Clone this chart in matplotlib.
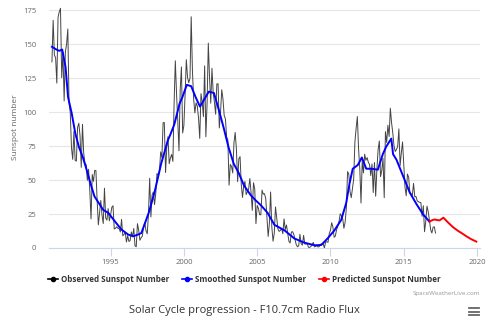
import matplotlib.pyplot as plt
from matplotlib.lines import Line2D
import numpy as np

# Observed monthly sunspot number, Jan 1991 onwards
obs_start = 1991
observed = [
    136.9, 167.5, 141.9, 140.0, 121.3, 169.7, 173.7, 176.3, 125.3, 144.1, 108.2, 144.4,  # 1991
    150.0, 161.1, 106.7, 99.8, 73.8, 65.2, 85.7, 64.5, 63.9, 88.7, 91.8, 82.6,  # 1992
    59.3, 91.0, 69.8, 62.2, 61.3, 49.8, 57.9, 42.3, 21.4, 54.1, 49.0, 57.1,  # 1993
    57.0, 35.0, 17.0, 26.0, 35.0, 24.0, 18.0, 44.0, 22.0, 20.5, 29.0, 20.0,  # 1994
    24.2, 29.9, 31.1, 14.0, 14.5, 15.6, 14.5, 14.3, 11.8, 21.1, 9.0, 10.0,  # 1995
    11.5, 4.4, 9.2, 4.8, 5.5, 11.8, 8.2, 14.4, 1.6, 0.9, 17.9, 13.3,  # 1996
    5.7, 7.6, 8.7, 15.5, 18.5, 12.7, 10.4, 24.4, 51.3, 22.8, 39.0, 41.2,  # 1997
    31.9, 40.3, 54.8, 53.4, 56.3, 70.7, 66.6, 92.2, 92.2, 55.5, 74.0, 81.9,  # 1998
    62.0, 66.3, 68.8, 63.7, 106.4, 137.7, 113.5, 93.7, 71.5, 116.7, 133.2, 84.6,  # 1999
    90.1, 112.9, 138.5, 125.5, 121.6, 124.9, 170.1, 130.5, 109.7, 99.4, 106.8, 104.4,  # 2000
    95.6, 80.6, 113.5, 107.7, 96.6, 134.0, 81.8, 106.4, 150.7, 125.5, 106.5, 132.2,  # 2001
    114.1, 107.4, 98.4, 120.7, 120.8, 88.3, 99.6, 116.4, 109.6, 97.5, 95.0, 81.6,  # 2002
    79.5, 46.2, 61.5, 60.0, 55.2, 77.4, 85.0, 72.7, 48.8, 65.6, 67.2, 46.5,  # 2003
    37.2, 46.0, 48.9, 39.3, 41.5, 43.2, 51.1, 40.9, 27.7, 48.0, 43.5, 17.9,  # 2004
    31.3, 29.2, 24.5, 24.4, 42.6, 39.6, 39.9, 36.4, 22.1, 8.5, 18.0, 41.2,  # 2005
    15.4, 5.0, 10.8, 30.2, 22.2, 13.9, 12.2, 12.9, 14.4, 10.5, 21.4, 13.6,  # 2006
    16.9, 10.6, 4.8, 3.7, 11.7, 12.0, 10.0, 6.2, 2.4, 0.9, 1.7, 10.1,  # 2007
    3.3, 2.1, 9.3, 2.9, 2.9, 3.1, 0.5, 0.5, 1.1, 2.9, 4.1, 0.8,  # 2008
    1.5, 1.4, 0.7, 1.2, 2.9, 2.6, 3.5, 0.0, 4.2, 4.6, 4.2, 10.6,  # 2009
    13.1, 18.6, 15.4, 7.9, 8.8, 13.5, 16.1, 19.6, 25.2, 23.5, 21.6, 14.5,  # 2010
    19.0, 29.4, 56.2, 54.4, 41.6, 37.0, 43.9, 50.6, 78.0, 88.0, 96.7, 73.0,  # 2011
    58.3, 33.1, 64.2, 55.2, 69.0, 64.5, 66.5, 63.0, 61.4, 53.3, 61.8, 40.8,  # 2012
    62.9, 38.1, 57.9, 72.4, 78.7, 52.5, 57.0, 66.0, 37.0, 85.6, 77.6, 90.3,  # 2013
    82.0, 102.8, 92.2, 84.7, 75.2, 71.0, 72.4, 74.6, 87.6, 60.6, 70.1, 78.0,  # 2014
    62.0, 44.8, 38.4, 54.4, 52.0, 40.2, 39.9, 38.5, 47.5, 37.6, 37.9, 34.7,  # 2015
    34.0, 33.6, 33.4, 23.3, 31.1, 12.0, 19.6, 30.8, 26.8, 20.5, 13.5, 11.0,  # 2016
    15.3, 15.6, 11.0,  # 2017
]

# Smoothed sunspot number
smooth_years = [1991.0, 1991.3, 1991.5, 1991.7, 1991.93, 1992.1, 1992.35, 1992.6, 1992.85,
                1993.1, 1993.3, 1993.7, 1993.9, 1994.2, 1994.5, 1994.85, 1995.3, 1995.75,
                1996.2, 1996.55, 1996.9, 1997.1, 1997.6, 1998.0, 1998.45, 1998.9, 1999.1,
                1999.35, 1999.7, 1999.9, 2000.2, 2000.5, 2000.8, 2001.1, 2001.4, 2001.7,
                2002.05, 2002.4, 2002.7, 2003.05, 2003.4, 2003.75, 2004.1, 2004.55, 2004.9,
                2005.25, 2005.7, 2006.18, 2006.86, 2007.54, 2008.2, 2008.9, 2009.37, 2009.8,
                2010.27, 2010.73, 2011.07, 2011.3, 2011.52, 2011.86, 2012.14, 2012.44, 2012.8,
                2013.23, 2013.57, 2013.8, 2014.15, 2014.27, 2014.5, 2014.95, 2015.4, 2015.86,
                2016.3, 2016.75]
smooth_vals = [148, 146, 145, 146, 133, 111, 99, 84, 74,
               67, 60, 45, 38, 33, 28, 25.8, 19.5, 13.5,
               9.9, 8.6, 10, 11, 25.8, 41, 62, 79, 84,
               91, 106, 111, 120, 119, 111, 104, 109.5, 115,
               114, 101, 89, 74, 62, 55, 46, 39, 35,
               31.5, 26, 17, 13, 7, 4, 2, 2.2, 7,
               13, 20.6, 33, 47.4, 58.3, 61, 66.6, 58.3, 58.3,
               57.6, 69, 74.5, 80.5, 69, 65, 53, 41, 32.4,
               25, 19.4]

# Predicted sunspot number
pred_years = [2016.75, 2016.95, 2017.1, 2017.3, 2017.44, 2017.7, 2018.0, 2018.34,
              2018.7, 2019.0, 2019.27, 2019.6, 2019.95]
pred_vals = [19.4, 20.5, 21, 20.5, 20.3, 22.3, 19.0, 15.5, 12.6, 10.6, 8.6, 6.5, 4.7]

years_ticks = [1995, 2000, 2005, 2010, 2015, 2020]
y_ticks = [0, 25, 50, 75, 100, 125, 150, 175]

obs_x = obs_start + np.arange(len(observed)) / 12.0

plt.rcParams['font.family'] = ['Open Sans', 'DejaVu Sans']

fig = plt.figure(figsize=(4.97, 3.24), dpi=100)
ax = fig.add_axes([49 / 497, 76 / 324, 431 / 497, 242 / 324])

ax.plot(obs_x, observed, color='#444444', linewidth=0.7, zorder=3)
ax.plot(smooth_years, smooth_vals, color='#0000ff', linewidth=1.4, zorder=4)
ax.plot(pred_years, pred_vals, color='#ff0000', linewidth=1.4, zorder=4)

ax.set_xlim(1990.8, 2020.2)
ax.set_ylim(0, 178)
ax.set_xticks(years_ticks)
ax.set_yticks(y_ticks)
ax.grid(axis='y', color='#e6e6e6', linewidth=0.8)
ax.set_axisbelow(True)
for s in ['top', 'right', 'left']:
    ax.spines[s].set_visible(False)
ax.spines['bottom'].set_color('#ccd6eb')
ax.tick_params(axis='x', colors='#ccd6eb', length=6, width=0.8, labelcolor='#666666',
               labelsize=5.5, pad=2)
ax.tick_params(axis='y', length=0, labelcolor='#666666', labelsize=5.5, pad=9)
ax.set_ylabel('Sunspot number', color='#666666', fontsize=6, labelpad=3)

# legend
handles = [
    Line2D([], [], color='#000000', marker='o', markersize=3, linewidth=1.2),
    Line2D([], [], color='#0000ff', marker='o', markersize=3, linewidth=1.2),
    Line2D([], [], color='#ff0000', marker='o', markersize=3, linewidth=1.2),
]
labels = ['Observed Sunspot Number', 'Smoothed Sunspot Number', 'Predicted Sunspot Number']
leg = fig.legend(handles, labels, loc='center', bbox_to_anchor=(244 / 497, 1 - 279 / 324),
                 ncol=3, frameon=False, handlelength=1.3, handletextpad=0.3,
                 columnspacing=1.6, prop={'size': 5.8, 'weight': 'bold'})
for t in leg.get_texts():
    t.set_color('#333333')

fig.text(480 / 497, 1 - 294 / 324, 'SpaceWeatherLive.com', ha='right', va='center',
         fontsize=4.5, color='#999999')
fig.text(244 / 497, 1 - 310 / 324, 'Solar Cycle progression - F10.7cm Radio Flux',
         ha='center', va='center', fontsize=8, color='#333333')

# menu icon
for yy in [308, 311.5, 315]:
    fig.add_artist(Line2D([469 / 497, 479 / 497], [1 - yy / 324, 1 - yy / 324],
                          color='#666666', linewidth=1.3))

fig.savefig('out.png', dpi=100)
